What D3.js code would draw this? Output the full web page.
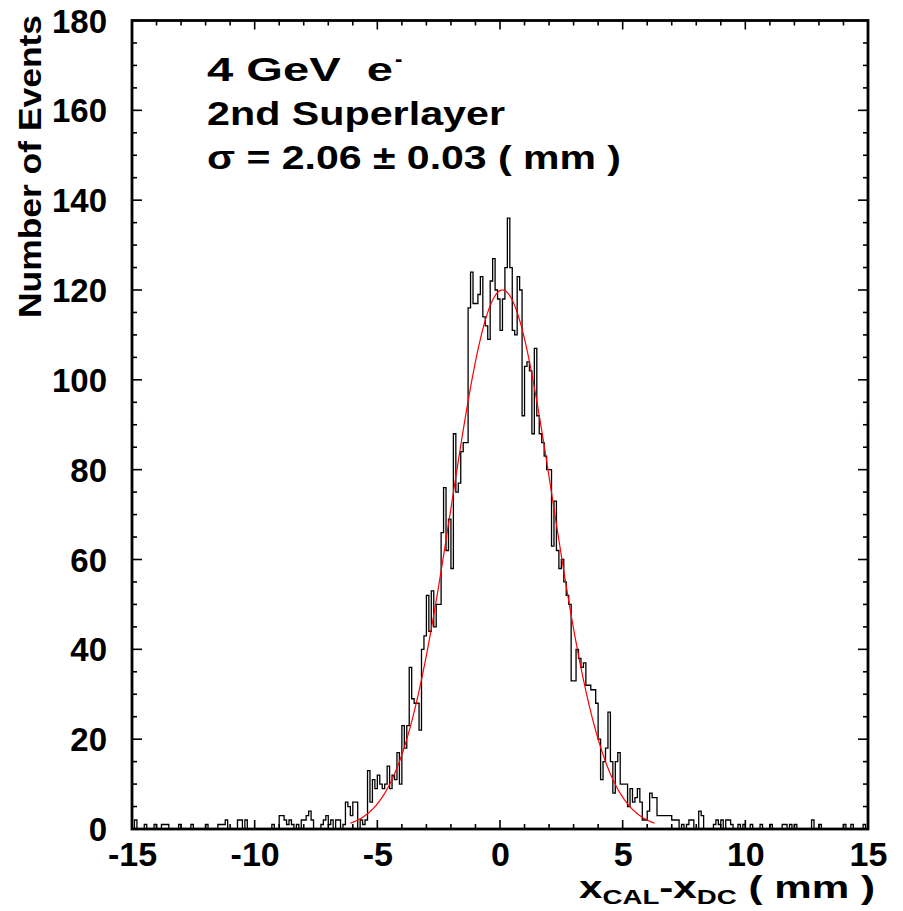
<!DOCTYPE html>
<html><head><meta charset="utf-8">
<script src="https://cdn.jsdelivr.net/npm/d3@7"></script>
<style>body{margin:0;background:#fff}svg{display:block}text{font-family:"Liberation Sans",Arial,Helvetica,sans-serif;font-weight:bold;fill:#000;white-space:pre}</style>
</head><body><div id="chart"></div>
<script>
// histogram: bins of 0.1 mm starting at -15 mm (one row = 1 mm = 10 bins)
const binStart = -15, binWidth = 0.1;
const counts = [
  0,2,0,0,0,1,0,0,0,1,      // -15
  0,0,1,1,1,0,0,0,0,1,      // -14
  0,0,0,0,1,0,0,0,0,0,      // -13
  1,0,0,0,0,1,1,1,2,0,      // -12
  0,0,0,2,2,0,2,0,0,0,      // -11
  0,0,0,0,0,0,0,1,0,0,      // -10
  3,3,2,1,2,1,0,1,0,2,      // -9
  2,3,4,2,0,0,0,1,2,3,      // -8
  1,2,0,2,2,0,1,6,5,3,      // -7
  6,6,0,2,1,2,13,6,11,9,    // -6
  12,10,9,10,14,9,12,11,17,10, // -5
  23,18,23,36,29,28,28,22,40,43, // -4
  52,44,53,45,50,50,66,76,62,69, // -3
  58,88,75,77,84,86,86,116,124,117, // -2
  117,119,123,114,112,109,122,127,120,118, // -1
  111,118,125,136,125,111,110,123,120,92, // 0
  103,104,102,88,107,92,88,86,83,80, // 1
  80,63,73,62,58,60,55,52,50,33,   // 2
  33,40,38,36,37,32,32,31,31,28,   // 3
  20,11,15,18,26,15,8,15,17,10,    // 4
  10,10,5,9,6,7,9,6,2,2,           // 5
  4,8,7,7,3,3,3,3,3,3,             // 6
  2,2,2,0,1,0,1,2,2,0,             // 7
  0,4,3,0,0,0,0,1,2,1,             // 8
  2,0,2,2,1,0,0,1,0,1,             // 9
  0,0,1,0,0,0,1,0,0,0,             // 10
  1,0,0,0,0,1,1,0,1,0,             // 11
  1,0,0,0,0,0,0,2,0,0,             // 12
  1,0,0,0,0,0,0,0,0,0,             // 13
  1,0,0,1,0,0,0,0,1,0              // 14
];
// Gaussian fit drawn in red: amplitude, mean, sigma; and the fit range
const fitParams = [120, 0.1, 2.06];
const fitRange = [-6.1, 6.3];
const xTicks = [-15, -10, -5, 0, 5, 10, 15];
const yTicks = [0, 20, 40, 60, 80, 100, 120, 140, 160, 180];
const labelLines = ["4 GeV  e", "2nd Superlayer", "σ = 2.06 ± 0.03 ( mm )"];

const W = 903, H = 911;
const m = {l:132, r:868, t:20.5, b:829};
const svg = d3.select("#chart").append("svg").attr("width", W).attr("height", H);
svg.append("rect").attr("width", W).attr("height", H).attr("fill", "#fff");
const x = d3.scaleLinear().domain([-15, 15]).range([m.l, m.r]);
const y = d3.scaleLinear().domain([0, 180]).range([m.b, m.t]);

svg.append("clipPath").attr("id","clip").append("rect")
  .attr("x", m.l).attr("y", m.t).attr("width", m.r-m.l).attr("height", m.b-m.t);

// histogram step outline
const pts = counts.map((c,i)=>[binStart + i*binWidth, c]);
pts.push([binStart + counts.length*binWidth, counts[counts.length-1]]);
const step = d3.line().x(d=>x(d[0])).y(d=>y(d[1])).curve(d3.curveStepAfter);
svg.append("path").attr("clip-path","url(#clip)").attr("d", step(pts))
  .attr("fill","none").attr("stroke","#000").attr("stroke-width",1.3);

// fit curve
const [A, mu, sg] = fitParams;
const fx = d3.range(fitRange[0], fitRange[1]+1e-9, 0.02);
const fitLine = d3.line().x(d=>x(d)).y(d=>y(A*Math.exp(-0.5*((d-mu)/sg)**2)));
svg.append("path").attr("d", fitLine(fx)).attr("fill","none").attr("stroke","#ff0000").attr("stroke-width",1.2);

// axes: labels via d3 axes, mirrored ticks drawn on all four sides
const gx = svg.append("g").attr("transform",`translate(0,${m.b})`)
  .call(d3.axisBottom(x).tickValues(xTicks).tickSize(0).tickPadding(0).tickFormat(d=>String(d)));
const gy = svg.append("g").attr("transform",`translate(${m.l},0)`)
  .call(d3.axisLeft(y).tickValues(yTicks).tickSize(0).tickPadding(25).tickFormat(d=>String(d)));
[gx,gy].forEach(g=>{g.select(".domain").remove();
  g.selectAll("text").attr("fill","#000").attr("font-family","Liberation Sans, Arial, sans-serif").attr("font-weight","bold");});
gx.selectAll("text").attr("font-size",34).attr("y",37).attr("dy",0);
gy.selectAll("text").attr("font-size",33).attr("dy","0.35em");

const tickG = svg.append("g").attr("stroke","#000").attr("stroke-width",1.6);
d3.range(-15, 15.001, 1).forEach(v=>{
  const L = (v % 5 === 0) ? 9 : 5;
  tickG.append("line").attr("x1",x(v)).attr("x2",x(v)).attr("y1",m.b).attr("y2",m.b-L);
  tickG.append("line").attr("x1",x(v)).attr("x2",x(v)).attr("y1",m.t).attr("y2",m.t+L);
});
d3.range(0, 180.001, 5).forEach(v=>{
  const L = (v % 20 === 0) ? 10 : 5;
  tickG.append("line").attr("y1",y(v)).attr("y2",y(v)).attr("x1",m.l).attr("x2",m.l+L);
  tickG.append("line").attr("y1",y(v)).attr("y2",y(v)).attr("x1",m.r).attr("x2",m.r-L);
});
svg.append("rect").attr("x",m.l).attr("y",m.t).attr("width",m.r-m.l).attr("height",m.b-m.t)
  .attr("fill","none").attr("stroke","#000").attr("stroke-width",2.8);

// y title
svg.append("text").attr("transform","translate(41,15) rotate(-90)").attr("text-anchor","end")
  .attr("font-size",32).attr("textLength",303).attr("lengthAdjust","spacingAndGlyphs").text("Number of Events");

// x title
const xt = svg.append("text").attr("x",579).attr("y",898).attr("font-size",32)
  .attr("textLength",296).attr("lengthAdjust","spacingAndGlyphs");
xt.append("tspan").text("x");
xt.append("tspan").attr("font-size",21).attr("dy",6).text("CAL");
xt.append("tspan").attr("dy",-6).text("-x");
xt.append("tspan").attr("font-size",21).attr("dy",6).text("DC");
xt.append("tspan").attr("dy",-6).text(" ( mm )");

// annotations
const ann = svg.append("g").attr("font-size",34);
ann.append("text").attr("x",207).attr("y",81).attr("textLength",186).attr("lengthAdjust","spacingAndGlyphs").text(labelLines[0]);
ann.append("text").attr("x",395).attr("y",66).attr("font-size",22).text("-");
ann.append("text").attr("x",207).attr("y",125).attr("textLength",298).attr("lengthAdjust","spacingAndGlyphs").text(labelLines[1]);
ann.append("text").attr("x",207).attr("y",169).attr("textLength",414).attr("lengthAdjust","spacingAndGlyphs").text(labelLines[2]);
</script></body></html>
